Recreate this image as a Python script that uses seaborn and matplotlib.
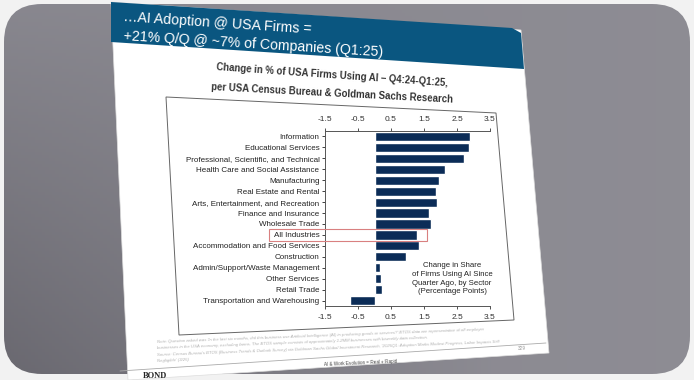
"""
Recreation of the BOND slide: change in % of USA firms using AI by sector
"""

import numpy as np
import matplotlib
matplotlib.use("Agg")
import matplotlib.pyplot as plt
import seaborn as sns
from matplotlib.patches import Polygon, Rectangle, FancyBboxPatch


# Chart data (percentage points, Q4:24 -> Q1:25)
sectors = ["Information", "Educational Services",
           "Professional, Scientific, and Technical",
           "Health Care and Social Assistance", "Manufacturing",
           "Real Estate and Rental", "Arts, Entertainment, and Recreation",
           "Finance and Insurance", "Wholesale Trade", "All Industries",
           "Accommodation and Food Services", "Construction",
           "Admin/Support/Waste Management", "Other Services", "Retail Trade",
           "Transportation and Warehousing"]
changes = [2.9, 2.85, 2.7, 2.15, 1.95, 1.85, 1.9, 1.65, 1.7, 1.3,
           1.35, 0.95, 0.17, 0.2, 0.22, -0.75]
tick_values = [-1.5, -0.5, 0.5, 1.5, 2.5, 3.5]
highlight = "All Industries"

header_lines = ["\u2026AI Adoption @ USA Firms =",
                "+21% Q/Q @ ~7% of Companies (Q1:25)"]
chart_title = ["Change in % of USA Firms Using AI \u2013 Q4:24-Q1:25,",
               "per USA Census Bureau & Goldman Sachs Research"]
legend_note = "Change in Share\nof Firms Using AI Since\nQuarter Ago, by Sector\n(Percentage Points)"
note_lines = [
    "Note: Question asked was 'In the last six months, did this business use Artificial Intelligence (AI) in producing goods or services?' BTOS data are representative of all employer",
    "businesses in the USA economy, excluding farms. The BTOS sample consists of approximately 1.2MM businesses with biweekly data collection.",
    "Source: Census Bureau's BTOS (Business Trends & Outlook Survey) via Goldman Sachs Global Investment Research, '2025Q1: Adoption Marks Modest Progress, Labor Impacts Still",
    "Negligible' (3/25)",
]

NAVY = "#0b2c57"
HEADER_BLUE = "#0a5680"

sns.set_theme(style="white")
plt.rcParams['font.family'] = ['Liberation Sans', 'DejaVu Sans']

W, H = 694, 380
fig = plt.figure(figsize=(6.94, 3.8), dpi=100, facecolor="#f2f2f2")

# background layer in pixel coordinates (y down)
bg = fig.add_axes([0, 0, 1, 1])
bg.set_xlim(0, W)
bg.set_ylim(H, 0)
bg.set_axis_off()

frame = FancyBboxPatch((4, 4), W - 8, H - 10, boxstyle="round,pad=0,rounding_size=38",
                       facecolor="none", edgecolor="none")
bg.add_patch(frame)
gx = np.linspace(0, 1, 200)
gy = np.linspace(0, 1, 120)
GX, GY = np.meshgrid(gx, gy)
shade = 0.54 + 0.02 * GX - 0.12 * GY * np.clip(1 - 1.4 * GX, 0, 1)
rgb = np.dstack([shade - 0.005, shade - 0.01, shade + 0.02])
img = bg.imshow(rgb, extent=[4, W - 4, H - 6, 4], aspect="auto", zorder=0)
img.set_clip_path(frame)

# slide and header
bg.add_patch(Polygon([(111, 2), (521, 30), (549, 353), (128, 380)], closed=True,
                     facecolor="white", edgecolor="#dddddd", lw=0.5, zorder=2))
bg.add_patch(Polygon([(111, 2), (512, 28), (521, 33), (524, 69), (111, 42)], closed=True,
                     facecolor=HEADER_BLUE, edgecolor="none", zorder=3))
bg.text(123, 21, header_lines[0], color="white", fontsize=10.2,
        rotation=-3.8, rotation_mode="anchor", ha="left", va="baseline", zorder=4)
bg.text(123, 40, header_lines[1], color="white", fontsize=10.2,
        rotation=-3.6, rotation_mode="anchor", ha="left", va="baseline", zorder=4)

# chart title
bg.text(332, 75, chart_title[0], color="#333333", fontsize=6.9, fontweight="bold",
        rotation=-4.0, rotation_mode="anchor", ha="center", va="center", zorder=4)
bg.text(332, 93, chart_title[1], color="#333333", fontsize=6.9, fontweight="bold",
        rotation=-3.0, rotation_mode="anchor", ha="center", va="center", zorder=4)

# chart border
bg.add_patch(Polygon([(166, 97), (496, 113), (514, 320), (179, 335)], closed=True,
                     facecolor="none", edgecolor="#666666", lw=0.7, zorder=4))

# notes and footer
for i, line in enumerate(note_lines):
    bg.text(157, 343 + i * 6.5, line, color="#b0b0b0", fontsize=3.1, style="italic",
            rotation=2.2, rotation_mode="anchor", ha="left", va="baseline", zorder=4)
bg.plot([120, 546], [371, 343], color="#aaaaaa", lw=0.6, zorder=4)
bg.text(522, 350, "329", color="#999999", fontsize=3.5, rotation=2.5, ha="center", zorder=4)
bg.text(360, 363, "AI & Work Evolution = Real + Rapid", color="#444444", fontsize=3.3,
        rotation=2.5, ha="center", va="center", zorder=4)
bg.text(143, 378, "BOND", color="#222222", fontsize=6, family="Liberation Serif",
        fontweight="bold", ha="left", va="baseline", zorder=4)

# main bar chart
ax = fig.add_axes([325 / W, 1 - 306 / H, 165 / W, 175 / H])
ax.set_facecolor("white")
sns.barplot(x=changes, y=sectors, orient="h", color=NAVY, width=0.84,
            saturation=1, ax=ax)
ax.set_xlim(tick_values[0], tick_values[-1])
ax.set_ylim(len(sectors) - 0.5, -0.5)
ax.set_xticks(tick_values)
ax.set_xticklabels([f"{t:g}" for t in tick_values])
ax.tick_params(axis="x", top=True, labeltop=True, bottom=True, labelbottom=True,
               length=2.5, width=0.6, pad=3, labelsize=6, colors="#333333")
ax.tick_params(axis="y", left=True, length=2, width=0.6, pad=2, labelsize=5.8,
               colors="#222222")
for side in ["top", "bottom", "left"]:
    ax.spines[side].set_visible(True)
    ax.spines[side].set_color("#555555")
    ax.spines[side].set_linewidth(0.7)
ax.spines["right"].set_visible(False)
ax.set_xlabel("")
ax.set_ylabel("")
ax.grid(False)

# highlight box around the All Industries row
hi = sectors.index(highlight)
ax.add_patch(Rectangle((-3.2, hi - 0.55), changes[hi] + 0.3 + 3.2, 1.1, fill=False,
                       edgecolor="#d98080", lw=0.8, clip_on=False, zorder=5))

ax.text(2.35, 13.0, legend_note, ha="center", va="center", fontsize=5.6,
        color="#222222", linespacing=1.35)

fig.savefig("out.png", dpi=100, facecolor=fig.get_facecolor())
